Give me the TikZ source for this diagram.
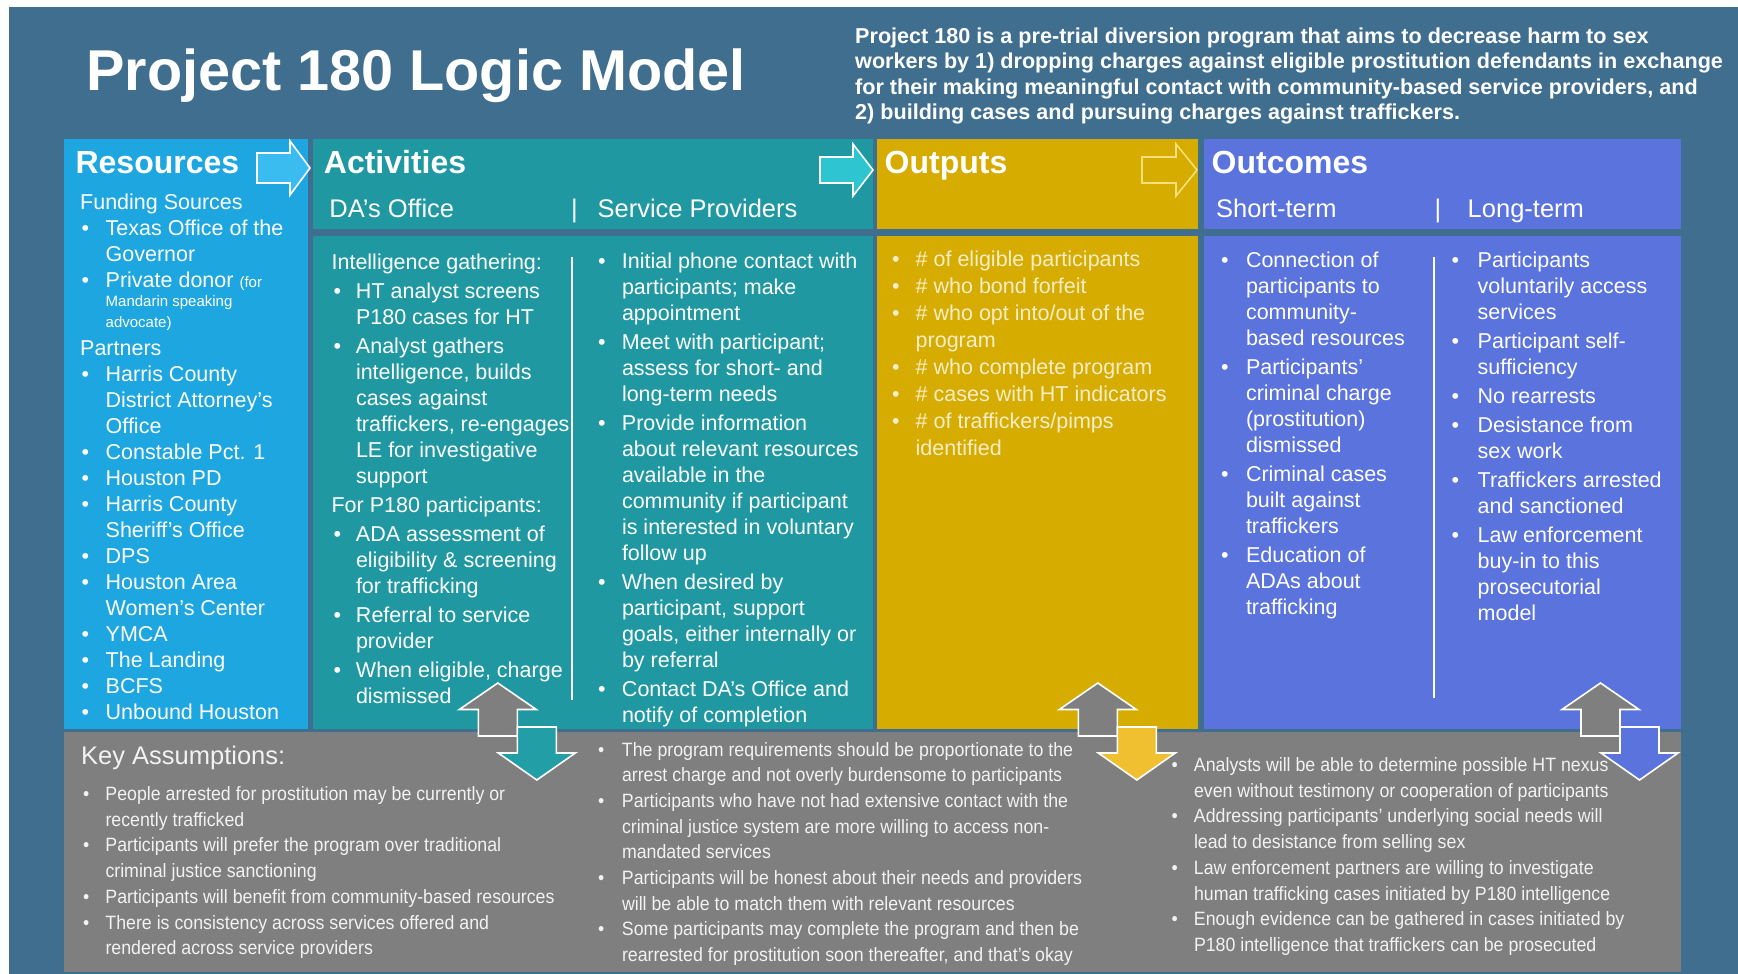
\documentclass[tikz,border=0pt]{standalone}
\usepackage{fontspec}
\setmainfont{Liberation Sans}
\newfontfamily\narrowfont[FakeStretch=0.92]{Liberation Sans}
\definecolor{bgblue}{RGB}{63,110,143}
\definecolor{resblue}{RGB}{29,166,223}
\definecolor{resarrow}{RGB}{58,188,240}
\definecolor{actteal}{RGB}{31,152,162}
\definecolor{actarrow}{RGB}{46,196,208}
\definecolor{outgold}{RGB}{214,172,0}
\definecolor{outarrline}{RGB}{248,224,120}
\definecolor{outtext}{RGB}{247,238,200}
\definecolor{ocblue}{RGB}{91,115,221}
\definecolor{kagray}{RGB}{127,127,127}
\definecolor{downyellow}{RGB}{240,192,48}
\definecolor{downteal}{RGB}{33,158,166}
\definecolor{katext}{RGB}{242,242,242}
\newcommand{\bl}[2]{\hspace*{#1pt}\makebox[#2pt][l]{\textbullet}}
\newcommand{\cn}[1]{\hspace*{#1pt}}
\newcommand{\updown}[2]{%
  \draw[arrline, fill=kagray] (#1-39,736) -- (#1-39,709.5) -- (#1-58,709.5) -- (#1-19.5,683) -- (#1+19,709.5) -- (#1,709.5) -- (#1,736) -- cycle;
  \draw[arrline, fill=#2] (#1,727) -- (#1+39,727) -- (#1+39,753) -- (#1+58,753) -- (#1+19.5,780) -- (#1-19,753) -- (#1,753) -- cycle;}
\begin{document}
\begin{tikzpicture}[x=1pt,y=-1pt,
  blk/.style={anchor=base west, inner sep=0pt, text=white, font=\fontsize{21.5}{26}\selectfont},
  hd/.style={anchor=base west, inner sep=0pt, text=white, font=\bfseries\fontsize{32}{38}\selectfont},
  sub/.style={anchor=base west, inner sep=0pt, text=white, font=\fontsize{25.5}{30}\selectfont},
  ka/.style={anchor=base west, inner sep=0pt, text=katext, font=\narrowfont\fontsize{19.3}{25.7}\selectfont},
  arrline/.style={draw=white, line width=1.6pt, line join=miter},
  divline/.style={draw=white, line width=1.4pt}]
\useasboundingbox (0,0) rectangle (1738,974);
\fill[white] (0,0) rectangle (1738,974);
\fill[bgblue] (9,7) rectangle (1738,974);
% panels
\fill[resblue] (64,139) rectangle (308,729);
\fill[actteal] (313,139) rectangle (873,229);
\fill[actteal] (313,236) rectangle (873,729);
\fill[outgold] (877,139) rectangle (1198,229);
\fill[outgold] (877,236) rectangle (1198,729);
\fill[ocblue] (1204,139) rectangle (1681,229);
\fill[ocblue] (1204,236) rectangle (1681,729);
\fill[kagray] (64,732) rectangle (1681,972);
% header arrows
\draw[arrline, fill=resarrow] (257,153) -- (290,153) -- (290,141) -- (310,168) -- (290,195) -- (290,183) -- (257,183) -- cycle;
\draw[arrline, fill=actarrow] (820,157) -- (853,157) -- (853,144) -- (873,170) -- (853,196) -- (853,183) -- (820,183) -- cycle;
\draw[arrline, draw=outarrline, fill=outgold] (1142,157) -- (1176,157) -- (1176,144) -- (1197,170) -- (1176,196) -- (1176,183) -- (1142,183) -- cycle;
% title and description
\node[anchor=base west, inner sep=0pt, text=white, font=\bfseries\fontsize{57.6}{60}\selectfont] (title) at (86,91) {Project 180 Logic Model};
\node[anchor=base west, inner sep=0pt, text=white, font=\bfseries\fontsize{21.6}{25.5}\selectfont] (desc) at (855,43.5) {\parbox[t]{900pt}{%
Project 180 is a pre-trial diversion program that aims to decrease harm to sex\\
workers by 1) dropping charges against eligible prostitution defendants in exchange\\
for their making meaningful contact with community-based service providers, and\\
2) building cases and pursuing charges against traffickers.}};
% headers
\node[hd] (hres) at (75.4,173) {Resources};
\node[hd] (hact) at (323.7,173) {Activities};
\node[hd] (hout) at (884.5,173) {Outputs};
\node[hd] (hoc) at (1211.5,173) {Outcomes};
\node[sub] (sda) at (329.2,217.5) {DA’s Office};
\node[sub] (sbar1) at (571,217.5) {|};
\node[sub] (ssp) at (597.4,217.5) {Service Providers};
\node[sub] (sst) at (1215.9,217.5) {Short-term};
\node[sub] (sbar2) at (1434.5,217.5) {|};
\node[sub] (slt) at (1467.5,217.5) {Long-term};
% dividers
\draw[divline] (572,257) -- (572,700);
\draw[divline] (1434,257) -- (1434,698);
% Resources body
\node[blk] (res) at (80,209) {\parbox[t]{230pt}{\def\bu{\bl{1.5}{24}}\def\ct{\cn{25.5}}%
Funding Sources\\
\bu Texas Office of the\\
\ct Governor\\
\bu Private donor {\fontsize{15}{18}\selectfont (for}\\[-7pt]
\ct {\fontsize{15}{18}\selectfont Mandarin speaking}\\[-5pt]
\ct {\fontsize{15}{18}\selectfont advocate)}\\[2.5pt]
Partners\\
\bu Harris County\\
\ct District Attorney’s\\
\ct Office\\
\bu Constable Pct. 1\\
\bu Houston PD\\
\bu Harris County\\
\ct Sheriff’s Office\\
\bu DPS\\
\bu Houston Area\\
\ct Women’s Center\\
\bu YMCA\\
\bu The Landing\\
\bu BCFS\\
\bu Unbound Houston}};
% DA's office
\node[blk] (da) at (331.4,269) {\parbox[t]{260pt}{\def\bu{\bl{2}{22.4}}\def\ct{\cn{24.4}}%
Intelligence gathering:\\[3pt]
\bu HT analyst screens\\
\ct P180 cases for HT\\[3pt]
\bu Analyst gathers\\
\ct intelligence, builds\\
\ct cases against\\
\ct traffickers, re-engages\\
\ct LE for investigative\\
\ct support\\[3pt]
For P180 participants:\\[3pt]
\bu ADA assessment of\\
\ct eligibility \& screening\\
\ct for trafficking\\[3pt]
\bu Referral to service\\
\ct provider\\[3pt]
\bu When eligible, charge\\
\ct dismissed}};
% Service providers
\node[blk] (sp) at (598,268) {\parbox[t]{280pt}{\def\bu{\bl{0}{23.8}}\def\ct{\cn{23.8}}%
\bu Initial phone contact with\\
\ct participants; make\\
\ct appointment\\[3pt]
\bu Meet with participant;\\
\ct assess for short- and\\
\ct long-term needs\\[3pt]
\bu Provide information\\
\ct about relevant resources\\
\ct available in the\\
\ct community if participant\\
\ct is interested in voluntary\\
\ct follow up\\[3pt]
\bu When desired by\\
\ct participant, support\\
\ct goals, either internally or\\
\ct by referral\\[3pt]
\bu Contact DA’s Office and\\
\ct notify of completion}};
% Outputs
\node[blk, text=outtext, font=\fontsize{21.5}{27}\selectfont] (outb) at (892,266) {\parbox[t]{300pt}{\def\bu{\bl{0}{23.5}}\def\ct{\cn{23.5}}%
\bu \# of eligible participants\\
\bu \# who bond forfeit\\
\bu \# who opt into/out of the\\
\ct program\\
\bu \# who complete program\\
\bu \# cases with HT indicators\\
\bu \# of traffickers/pimps\\
\ct identified}};
% Outcomes short-term
\node[blk] (ost) at (1221,267) {\parbox[t]{220pt}{\def\bu{\bl{0}{24.8}}\def\ct{\cn{24.8}}%
\bu Connection of\\
\ct participants to\\
\ct community-\\
\ct based resources\\[3pt]
\bu Participants’\\
\ct criminal charge\\
\ct (prostitution)\\
\ct dismissed\\[3pt]
\bu Criminal cases\\
\ct built against\\
\ct traffickers\\[3pt]
\bu Education of\\
\ct ADAs about\\
\ct trafficking}};
% Outcomes long-term
\node[blk] (olt) at (1451.5,267) {\parbox[t]{230pt}{\def\bu{\bl{0}{26}}\def\ct{\cn{26}}%
\bu Participants\\
\ct voluntarily access\\
\ct services\\[3pt]
\bu Participant self-\\
\ct sufficiency\\[3pt]
\bu No rearrests\\[3pt]
\bu Desistance from\\
\ct sex work\\[3pt]
\bu Traffickers arrested\\
\ct and sanctioned\\[3pt]
\bu Law enforcement\\
\ct buy-in to this\\
\ct prosecutorial\\
\ct model}};
% bottom double arrows
\updown{517.3}{downteal}
\updown{1117.3}{downyellow}
\updown{1620}{ocblue}
% Key assumptions
\node[anchor=base west, inner sep=0pt, text=katext, font=\fontsize{25.5}{30}\selectfont] (kah) at (81,764) {Key Assumptions:};
\node[ka] (ka1) at (83,800.5) {\parbox[t]{480pt}{\def\bu{\bl{0}{22.3}}\def\ct{\cn{22.3}}%
\bu People arrested for prostitution may be currently or\\
\ct recently trafficked\\
\bu Participants will prefer the program over traditional\\
\ct criminal justice sanctioning\\
\bu Participants will benefit from community-based resources\\
\bu There is consistency across services offered and\\
\ct rendered across service providers}};
\node[ka] (ka2) at (598,756) {\parbox[t]{520pt}{\def\bu{\bl{0}{23.8}}\def\ct{\cn{23.8}}%
\bu The program requirements should be proportionate to the\\
\ct arrest charge and not overly burdensome to participants\\
\bu Participants who have not had extensive contact with the\\
\ct criminal justice system are more willing to access non-\\
\ct mandated services\\
\bu Participants will be honest about their needs and providers\\
\ct will be able to match them with relevant resources\\
\bu Some participants may complete the program and then be\\
\ct rearrested for prostitution soon thereafter, and that’s okay}};
\node[ka] (ka3) at (1171.5,771.5) {\parbox[t]{480pt}{\def\bu{\bl{0}{22.3}}\def\ct{\cn{22.3}}%
\bu Analysts will be able to determine possible HT nexus\\
\ct even without testimony or cooperation of participants\\
\bu Addressing participants’ underlying social needs will\\
\ct lead to desistance from selling sex\\
\bu Law enforcement partners are willing to investigate\\
\ct human trafficking cases initiated by P180 intelligence\\
\bu Enough evidence can be gathered in cases initiated by\\
\ct P180 intelligence that traffickers can be prosecuted}};
\end{tikzpicture}
\end{document}
